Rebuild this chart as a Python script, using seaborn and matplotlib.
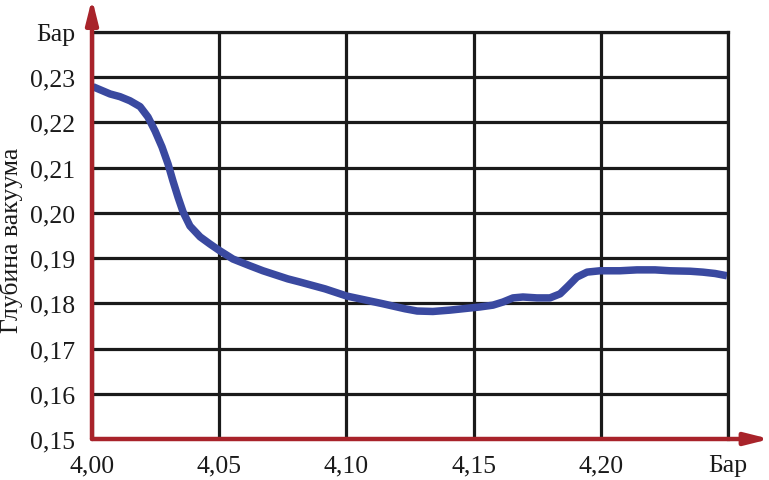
import matplotlib
matplotlib.use("Agg")
import matplotlib.pyplot as plt
import seaborn as sns
import pandas as pd

# Data
pressure = [4.0004, 4.0071, 4.0110, 4.0149, 4.0189, 4.0220, 4.0248, 4.0275, 4.0299,
            4.0318, 4.0338, 4.0358, 4.0385, 4.0425, 4.0464, 4.0503, 4.0554, 4.0621,
            4.0672, 4.0770, 4.0818, 4.0916, 4.1002, 4.1144, 4.1230, 4.1278, 4.1340,
            4.1407, 4.1474, 4.1525, 4.1576, 4.1616, 4.1655, 4.1694, 4.1749, 4.1800,
            4.1840, 4.1871, 4.1906, 4.1946, 4.1997, 4.2075, 4.2142, 4.2213, 4.2272,
            4.2351, 4.2401, 4.2449, 4.2496]
vacuum = [0.2279, 0.2263, 0.2257, 0.2248, 0.2235, 0.2212, 0.2181, 0.2146, 0.2108,
          0.2071, 0.2035, 0.2002, 0.1971, 0.1947, 0.1931, 0.1916, 0.1898, 0.1883,
          0.1872, 0.1854, 0.1847, 0.1832, 0.1816, 0.1799, 0.1788, 0.1783, 0.1782,
          0.1785, 0.1789, 0.1792, 0.1796, 0.1803, 0.1812, 0.1814, 0.1812, 0.1812,
          0.1821, 0.1838, 0.1858, 0.1869, 0.1872, 0.1872, 0.1874, 0.1874, 0.1872,
          0.1871, 0.1869, 0.1866, 0.1861]

x_ticks = [4.00, 4.05, 4.10, 4.15, 4.20, 4.25]
x_tick_labels = ["4,00", "4,05", "4,10", "4,15", "4,20", "Бар"]
y_ticks = [0.15, 0.16, 0.17, 0.18, 0.19, 0.20, 0.21, 0.22, 0.23, 0.24]
y_tick_labels = ["0,15", "0,16", "0,17", "0,18", "0,19", "0,20", "0,21", "0,22", "0,23", "Бар"]
y_label = "Глубина вакуума"

sns.set_theme(style="white")
plt.rcParams['font.family'] = ['Liberation Serif', 'DejaVu Serif']

df = pd.DataFrame({"p": pressure, "v": vacuum})

fig = plt.figure(figsize=(7.69, 4.81), dpi=100)
ax = fig.add_axes([92/769, 1 - 440/481, (728-92)/769, (440-33)/481])

ax.set_xlim(4.0, 4.25)
ax.set_ylim(0.15, 0.24)
ax.set_xticks(x_ticks)
ax.set_xticklabels(x_tick_labels)
ax.set_yticks(y_ticks)
ax.set_yticklabels(y_tick_labels)

ax.grid(True, color="#1a1a1a", linewidth=2.3)
ax.set_axisbelow(True)
for s in ["top", "right"]:
    ax.spines[s].set_color("#1a1a1a")
    ax.spines[s].set_linewidth(2.3)
for s in ["left", "bottom"]:
    ax.spines[s].set_visible(False)

sns.lineplot(data=df, x="p", y="v", ax=ax, sort=False, color="#3a49a0",
             linewidth=5.4, solid_joinstyle="round", solid_capstyle="butt")

ax.tick_params(axis="both", length=0, labelsize=18.5, colors="#1a1a1a")
ax.tick_params(axis="x", pad=11)
ax.tick_params(axis="y", pad=12)
ax.set_xlabel("")
ax.set_ylabel(y_label, fontsize=18.5, color="#1a1a1a")
ax.yaxis.label.set_verticalalignment("center")
ax.yaxis.set_label_coords(-0.127, 0.49)

# red arrow axes
red = "#a8232a"
ax.annotate("", xy=(1.066, 0), xytext=(0, 0), xycoords="axes fraction",
            arrowprops=dict(arrowstyle="-|>,head_length=1.2,head_width=0.3",
                            color=red, lw=3.2, shrinkA=0, shrinkB=0),
            annotation_clip=False)
ax.annotate("", xy=(0, 1.082), xytext=(0, 0), xycoords="axes fraction",
            arrowprops=dict(arrowstyle="-|>,head_length=1.2,head_width=0.3",
                            color=red, lw=3.2, shrinkA=0, shrinkB=0),
            annotation_clip=False)

fig.savefig("out.png", dpi=100)
